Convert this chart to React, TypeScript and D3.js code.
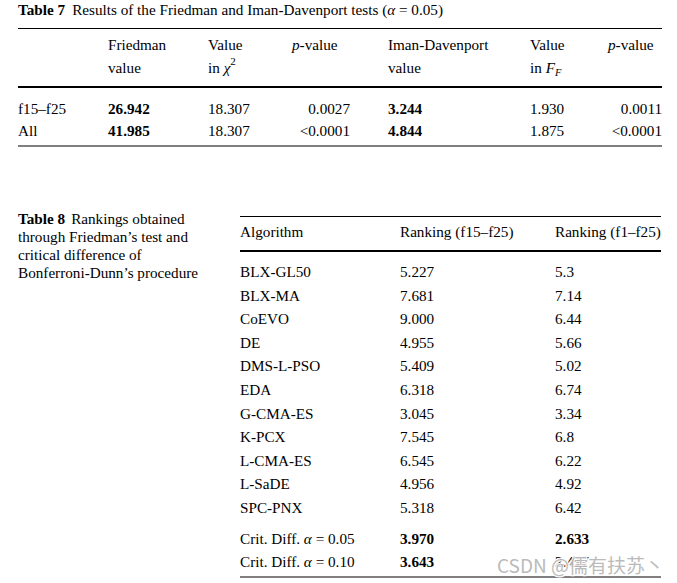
import React from "react";
import * as d3 from "d3";

const t7RowLabels = ["f15–f25", "All"];
const friedmanValues = ["26.942", "41.985"];
const chiValues = ["18.307", "18.307"];
const pValues1 = ["0.0027", "<0.0001"];
const imanValues = ["3.244", "4.844"];
const ffValues = ["1.930", "1.875"];
const pValues2 = ["0.0011", "<0.0001"];

const algorithms = ["BLX-GL50", "BLX-MA", "CoEVO", "DE", "DMS-L-PSO", "EDA", "G-CMA-ES", "K-PCX", "L-CMA-ES", "L-SaDE", "SPC-PNX"];
const rank1525 = ["5.227", "7.681", "9.000", "4.955", "5.409", "6.318", "3.045", "7.545", "6.545", "4.956", "5.318"];
const rank125 = ["5.3", "7.14", "6.44", "5.66", "5.02", "6.74", "3.34", "6.8", "6.22", "4.92", "6.42"];
const critAlphas = ["0.05", "0.10"];
const crit1525 = ["3.970", "3.643"];
const crit125 = ["2.633", "2.417"];

const FONT = "'Liberation Serif', 'Times New Roman', serif";
const FS = 15.2;

export default function App() {
  const y7 = d3.scaleLinear().domain([0, 1]).range([114, 136]);
  const y8 = d3.scaleLinear().domain([0, algorithms.length - 1]).range([277, 513]);
  const yc = d3.scaleLinear().domain([0, 1]).range([544, 567]);

  const txt = (x: number, y: number, s: React.ReactNode, extra: any = {}) => (
    <text x={x} y={y} {...extra}>{s}</text>
  );

  return (
    <div style={{ position: "absolute", left: 0, top: 0 }}>
      <svg width={677} height={583} style={{ display: "block" }} fontFamily={FONT} fontSize={FS} fill="#000">
        <rect width={677} height={583} fill="#fff" />
        {/* Table 7 */}
        <text x={18} y={15}>
          <tspan fontWeight="bold">Table 7</tspan>
          <tspan dx={7}>Results of the Friedman and Iman-Davenport tests (</tspan>
          <tspan fontStyle="italic">α</tspan>
          <tspan> = 0.05)</tspan>
        </text>
        <line x1={18} x2={662} y1={28.5} y2={28.5} stroke="#000" strokeWidth={1} />
        {txt(108, 50, "Friedman")}
        {txt(108, 73, "value")}
        {txt(208, 50, "Value")}
        <text x={208} y={73}>
          in <tspan fontStyle="italic">χ</tspan>
          <tspan dy={-8} fontSize={11}>2</tspan>
        </text>
        <text x={292} y={50}><tspan fontStyle="italic">p</tspan>-value</text>
        {txt(388, 50, "Iman-Davenport")}
        {txt(388, 73, "value")}
        {txt(530, 50, "Value")}
        <text x={530} y={73}>
          in <tspan fontStyle="italic">F</tspan>
          <tspan dy={3} fontSize={10.5} fontStyle="italic">F</tspan>
        </text>
        <text x={608} y={50}><tspan fontStyle="italic">p</tspan>-value</text>
        <line x1={18} x2={662} y1={87} y2={87} stroke="#000" strokeWidth={2} />
        {t7RowLabels.map((l, i) => (
          <g key={l}>
            {txt(18, y7(i), l)}
            {txt(108, y7(i), friedmanValues[i], { fontWeight: "bold" })}
            {txt(208, y7(i), chiValues[i])}
            {txt(350, y7(i), pValues1[i], { textAnchor: "end" })}
            {txt(388, y7(i), imanValues[i], { fontWeight: "bold" })}
            {txt(530, y7(i), ffValues[i])}
            {txt(662, y7(i), pValues2[i], { textAnchor: "end" })}
          </g>
        ))}
        <line x1={18} x2={662} y1={146} y2={146} stroke="#000" strokeWidth={1} />

        {/* Table 8 caption */}
        <text x={18} y={224}>
          <tspan fontWeight="bold">Table 8</tspan>
          <tspan dx={6}>Rankings obtained</tspan>
        </text>
        {txt(18, 242, "through Friedman’s test and")}
        {txt(18, 260, "critical difference of")}
        {txt(18, 278, "Bonferroni-Dunn’s procedure")}

        <line x1={240} x2={661} y1={216.5} y2={216.5} stroke="#000" strokeWidth={1} />
        {txt(240, 237, "Algorithm")}
        {txt(400, 237, "Ranking (f15–f25)")}
        {txt(555, 237, "Ranking (f1–f25)")}
        <line x1={240} x2={661} y1={251} y2={251} stroke="#000" strokeWidth={2} />
        {algorithms.map((a, i) => (
          <g key={a}>
            {txt(240, y8(i), a)}
            {txt(400, y8(i), rank1525[i])}
            {txt(555, y8(i), rank125[i])}
          </g>
        ))}
        {critAlphas.map((a, i) => (
          <g key={a}>
            <text x={240} y={yc(i)}>
              Crit. Diff. <tspan fontStyle="italic">α</tspan> = {a}
            </text>
            {txt(400, yc(i), crit1525[i], { fontWeight: "bold" })}
            {txt(555, yc(i), crit125[i], { fontWeight: "bold" })}
          </g>
        ))}
        <line x1={240} x2={661} y1={577} y2={577} stroke="#000" strokeWidth={1} />

        {/* watermark */}
        <text x={497} y={573} fontFamily="'Noto Sans CJK SC', 'Noto Sans', sans-serif" fontSize={19}
          fill="#b8b8b8" stroke="#fff" strokeWidth={2.5} style={{ paintOrder: "stroke" }} opacity={0.95}>
          CSDN @儒有扶苏丶
        </text>
      </svg>
    </div>
  );
}
